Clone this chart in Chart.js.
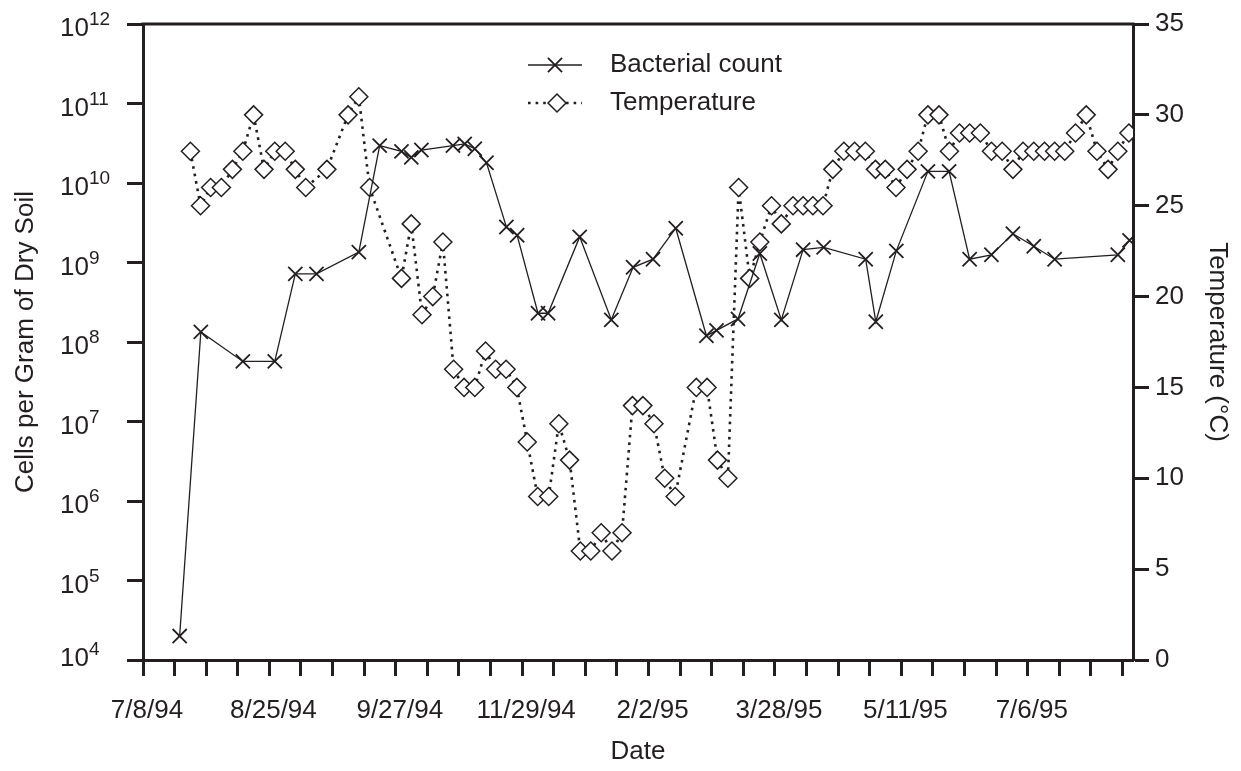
<!DOCTYPE html>
<html>
<head>
<meta charset="utf-8">
<title>Bacterial count and soil temperature</title>
<script src="https://cdn.jsdelivr.net/npm/chart.js@4/dist/chart.umd.min.js"></script>
<style>
  html, body { margin: 0; padding: 0; background: #fff; }
</style>
</head>
<body>
<canvas id="soilChart" width="1241" height="771"></canvas>
<script>
// date labels sit on every fourth tick of the sampling axis
var dateLabels = ['7/8/94', '8/25/94', '9/27/94', '11/29/94', '2/2/95', '3/28/95', '5/11/95', '7/6/95'];
var labelEvery = 4;

// bacterial count, cells per gram of dry soil
var countX = [1.16, 1.83, 3.16, 4.17, 4.82, 5.49, 6.83, 7.49, 8.18, 8.49, 8.81, 9.81, 10.18, 10.5, 10.87,
              11.5, 11.84, 12.5, 12.82, 13.82, 14.82, 15.51, 16.14, 16.86, 17.83, 18.15, 18.83, 19.52, 20.2,
              20.89, 21.54, 22.87, 23.19, 23.84, 24.84, 25.51, 26.16, 26.85, 27.53, 28.19, 28.85, 30.85, 31.22];
var countY = [2e4, 1.34e8, 5.7e7, 5.7e7, 7.2e8, 7.2e8, 1.35e9, 2.95e10, 2.5e10, 2.1e10, 2.6e10, 2.95e10, 3.1e10, 2.7e10, 1.8e10,
              2.8e9, 2.2e9, 2.3e8, 2.3e8, 2.1e9, 1.9e8, 8.7e8, 1.1e9, 2.7e9, 1.2e8, 1.4e8, 1.95e8, 1.3e9, 1.9e8,
              1.45e9, 1.55e9, 1.1e9, 1.8e8, 1.4e9, 1.4e10, 1.4e10, 1.1e9, 1.25e9, 2.3e9, 1.6e9, 1.1e9, 1.25e9, 1.9e9];

// soil temperature, degrees C
var tempX = [1.5, 1.82, 2.14, 2.48, 2.83, 3.16, 3.5, 3.83, 4.17, 4.5, 4.82, 5.15, 5.82, 6.49, 6.83, 7.17,
             8.18, 8.49, 8.83, 9.17, 9.49, 9.83, 10.16, 10.5, 10.84, 11.16, 11.49, 11.83, 12.16, 12.49, 12.84,
             13.16, 13.5, 13.84, 14.17, 14.5, 14.84, 15.16, 15.49, 15.82, 16.17, 16.51, 16.84, 17.51, 17.85,
             18.18, 18.51, 18.85, 19.2, 19.52, 19.89, 20.2, 20.57, 20.89, 21.2, 21.52, 21.83, 22.18, 22.52,
             22.86, 23.18, 23.49, 23.83, 24.18, 24.53, 24.84, 25.19, 25.52, 25.84, 26.16, 26.5, 26.85, 27.19,
             27.53, 27.85, 28.19, 28.53, 28.85, 29.17, 29.51, 29.85, 30.19, 30.54, 30.85, 31.2];
var tempY = [28, 25, 26, 26, 27, 28, 30, 27, 28, 28, 27, 26, 27, 30, 31, 26,
             21, 24, 19, 20, 23, 16, 15, 15, 17, 16, 16, 15, 12, 9, 9,
             13, 11, 6, 6, 7, 6, 7, 14, 14, 13, 10, 9, 15, 15,
             11, 10, 26, 21, 23, 25, 24, 25, 25, 25, 25, 27, 28, 28,
             28, 27, 27, 26, 27, 28, 30, 30, 28, 29, 29, 29, 28, 28,
             27, 28, 28, 28, 28, 28, 29, 30, 28, 27, 28, 29];

var decades = [4, 5, 6, 7, 8, 9, 10, 11, 12];

var ink = '#231f20';
var family = '"Liberation Sans", Arial, Helvetica, sans-serif';
var axisFont = { family: family, size: 26 };

function xMark(ctx, x, y, r) {
  var d = r * Math.SQRT1_2;
  ctx.beginPath();
  ctx.moveTo(x - d, y - d); ctx.lineTo(x + d, y + d);
  ctx.moveTo(x + d, y - d); ctx.lineTo(x - d, y + d);
  ctx.stroke();
}

function diamond(ctx, x, y, r) {
  ctx.beginPath();
  ctx.moveTo(x - r, y); ctx.lineTo(x, y - r); ctx.lineTo(x + r, y); ctx.lineTo(x, y + r);
  ctx.closePath();
  ctx.fill();
  ctx.stroke();
}

// frame top, 10^n tick labels and the legend
var extras = {
  id: 'extras',
  afterDraw: function (chart) {
    var ctx = chart.ctx, a = chart.chartArea, ys = chart.scales.y;
    ctx.save();
    ctx.strokeStyle = ink;
    ctx.lineWidth = 3;
    ctx.beginPath();
    ctx.moveTo(a.left - 1.5, a.top);
    ctx.lineTo(a.right + 1.5, a.top);
    ctx.stroke();

    ctx.fillStyle = ink;
    ctx.textBaseline = 'alphabetic';
    decades.forEach(function (p) {
      var y = ys.getPixelForValue(Math.pow(10, p));
      // the bottom label is lifted clear of the date axis
      var lift = p === decades[0] ? 6 : 0;
      ctx.font = '26px ' + family;
      ctx.textAlign = 'right';
      ctx.fillText('10', 89, y + 12 - lift);
      ctx.font = '19px ' + family;
      ctx.textAlign = 'left';
      ctx.fillText(String(p), 89, y + 1 - lift);
    });

    // legend
    var ds = chart.data.datasets;
    var rows = [{ set: ds[0], y: 65 }, { set: ds[1], y: 103 }];
    rows.forEach(function (row, i) {
      var s = row.set;
      ctx.strokeStyle = ink;
      ctx.lineWidth = s.borderWidth;
      ctx.setLineDash(s.borderDash || []);
      ctx.beginPath();
      ctx.moveTo(528, row.y);
      ctx.lineTo(582, row.y);
      ctx.stroke();
      ctx.setLineDash([]);
      ctx.lineWidth = s.pointBorderWidth;
      ctx.fillStyle = s.pointBackgroundColor;
      if (i === 0) xMark(ctx, 555, row.y, s.pointRadius);
      else diamond(ctx, 557, row.y, s.pointRadius);
      ctx.fillStyle = ink;
      ctx.font = '26px ' + family;
      ctx.textAlign = 'left';
      ctx.textBaseline = 'middle';
      ctx.fillText(s.label, 610, row.y);
    });
    ctx.restore();
  }
};

function pairs(xs, ys) {
  return xs.map(function (x, i) { return { x: x, y: ys[i] }; });
}

new Chart(document.getElementById('soilChart'), {
  type: 'scatter',
  data: {
    datasets: [{
      label: 'Bacterial count',
      data: pairs(countX, countY),
      yAxisID: 'y',
      showLine: true,
      borderColor: ink,
      borderWidth: 1.3,
      pointStyle: 'crossRot',
      pointRadius: 10,
      pointHoverRadius: 10,
      pointBorderWidth: 1.8,
      pointBorderColor: ink,
      pointBackgroundColor: ink
    }, {
      label: 'Temperature',
      data: pairs(tempX, tempY),
      yAxisID: 'y2',
      showLine: true,
      borderColor: ink,
      borderWidth: 2.6,
      borderDash: [2.6, 5],
      pointStyle: 'rectRot',
      pointRadius: 9,
      pointHoverRadius: 9,
      pointBorderWidth: 1.5,
      pointBorderColor: ink,
      pointBackgroundColor: '#ffffff'
    }]
  },
  options: {
    responsive: false,
    devicePixelRatio: 1,
    animation: false,
    layout: { padding: { top: 24, left: 0, right: 0, bottom: 0 } },
    plugins: { legend: { display: false }, tooltip: { enabled: false } },
    scales: {
      x: {
        type: 'linear',
        position: 'bottom',
        min: 0,
        max: 31.33,
        afterFit: function (s) { s.height = 111; },
        border: { color: ink, width: 3 },
        grid: { drawOnChartArea: false, tickLength: 16, tickWidth: 3, tickColor: ink },
        ticks: {
          stepSize: 1,
          includeBounds: false,
          autoSkip: false,
          maxRotation: 0,
          padding: 19,
          labelOffset: 4,
          color: ink,
          font: axisFont,
          callback: function (v) {
            return v % labelEvery === 0 ? (dateLabels[v / labelEvery] || '') : '';
          }
        },
        title: { display: true, text: 'Date', color: ink, font: axisFont, padding: { top: 0, bottom: 4 } }
      },
      y: {
        type: 'logarithmic',
        position: 'left',
        min: 1e4,
        max: 1e12,
        afterFit: function (s) { s.width = 143; },
        afterBuildTicks: function (s) {
          s.ticks = decades.map(function (p) { return { value: Math.pow(10, p) }; });
        },
        border: { color: ink, width: 3 },
        grid: { drawOnChartArea: false, tickLength: 16, tickWidth: 3, tickColor: ink },
        ticks: { display: false },
        title: { display: true, text: 'Cells per Gram of Dry Soil', color: ink, font: axisFont, padding: { top: 10, bottom: 0 } }
      },
      y2: {
        type: 'linear',
        position: 'right',
        min: 0,
        max: 35,
        afterFit: function (s) { s.width = 108; },
        border: { color: ink, width: 3 },
        grid: { drawOnChartArea: false, tickLength: 16, tickWidth: 3, tickColor: ink },
        ticks: { stepSize: 5, padding: 6, color: ink, font: axisFont },
        title: { display: true, text: 'Temperature (\u00b0C)', color: ink, font: axisFont, padding: { top: 8, bottom: 0 } }
      }
    }
  },
  plugins: [extras]
});
</script>
</body>
</html>
